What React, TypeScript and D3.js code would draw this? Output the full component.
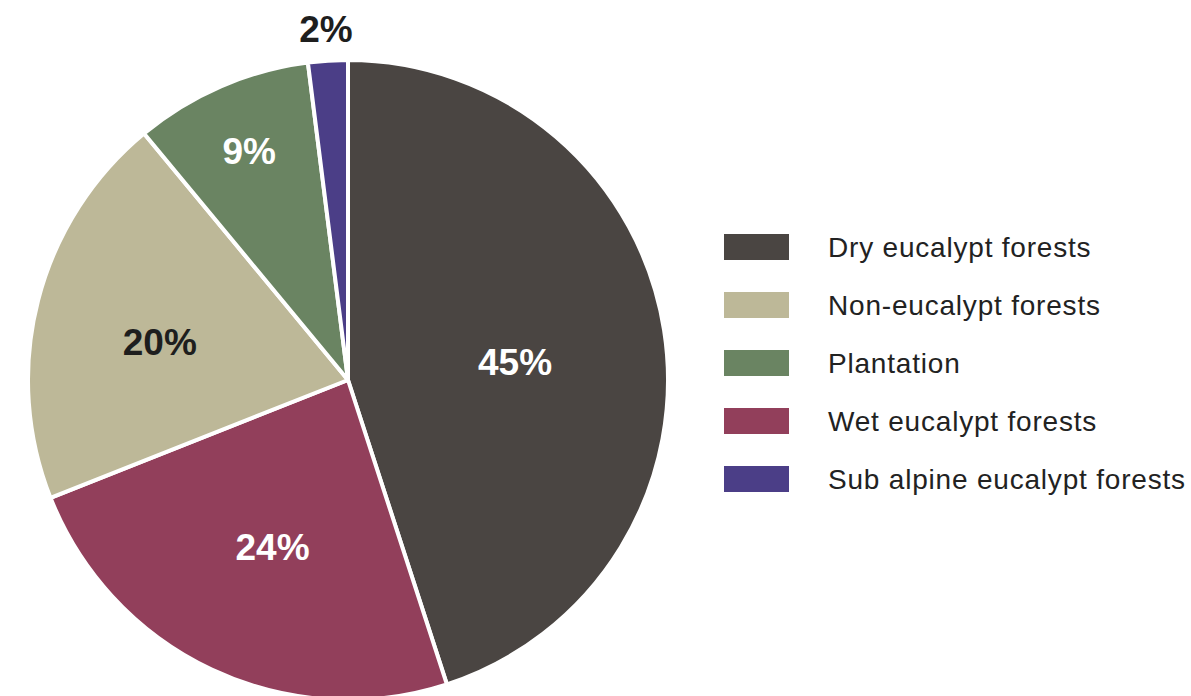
import React, { useMemo } from "react";
import * as d3 from "d3";

const WIDTH = 1191;
const HEIGHT = 696;
const CENTER = { x: 348, y: 380 };
const RADIUS = 320;

const categories = [
  "Dry eucalypt forests",
  "Wet eucalypt forests",
  "Non-eucalypt forests",
  "Plantation",
  "Sub alpine eucalypt forests",
];
const shares = [45, 24, 20, 9, 2];
const colors = ["#4a4542", "#923f5b", "#bdb898", "#6a8462", "#4b3e87"];
const labelColors = ["#ffffff", "#ffffff", "#1e1e1e", "#ffffff", "#1e1e1e"];
// percent labels: distance from the centre and a small turn (degrees) off the slice middle
const labelRadii = [168, 184, 192, 249, 351];
const labelTurn = [3, -1, -3, 0, 0];

// legend order differs from slice order
const legendOrder = [
  "Dry eucalypt forests",
  "Non-eucalypt forests",
  "Plantation",
  "Wet eucalypt forests",
  "Sub alpine eucalypt forests",
];

const LEGEND = { x: 724, y: 234, step: 58, sw: 65, sh: 26, textX: 828 };
const FONT = "'Liberation Sans', Arial, sans-serif";

export default function App() {
  const arcs = useMemo(() => {
    const pie = d3
      .pie<number>()
      .sort(null)
      .value((d) => d);
    return pie(shares);
  }, []);

  const arcGen = d3.arc<d3.PieArcDatum<number>>().innerRadius(0).outerRadius(RADIUS);

  return (
    <svg width={WIDTH} height={HEIGHT} style={{ position: "absolute", left: 0, top: 0 }}>
      <rect width={WIDTH} height={HEIGHT} fill="#ffffff" />
      <g transform={`translate(${CENTER.x},${CENTER.y})`}>
        {arcs.map((a, i) => (
          <path
            key={categories[i]}
            d={arcGen(a) || ""}
            fill={colors[i]}
            stroke="#ffffff"
            strokeWidth={4}
            strokeLinejoin="round"
          />
        ))}
        {arcs.map((a, i) => {
          const mid = (a.startAngle + a.endAngle) / 2 + (labelTurn[i] * Math.PI) / 180;
          const r = labelRadii[i];
          return (
            <text
              key={"l" + i}
              x={Math.sin(mid) * r}
              y={-Math.cos(mid) * r}
              textAnchor="middle"
              dominantBaseline="central"
              fontFamily={FONT}
              fontWeight="bold"
              fontSize={37}
              fill={labelColors[i]}
            >
              {shares[i]}%
            </text>
          );
        })}
      </g>
      <g>
        {legendOrder.map((name, i) => {
          const idx = categories.indexOf(name);
          const y = LEGEND.y + i * LEGEND.step;
          return (
            <g key={name}>
              <rect x={LEGEND.x} y={y} width={LEGEND.sw} height={LEGEND.sh} fill={colors[idx]} />
              <text
                x={LEGEND.textX}
                y={y + LEGEND.sh / 2}
                dominantBaseline="central"
                fontFamily={FONT}
                fontSize={28}
                letterSpacing={0.8}
                fill="#222222"
              >
                {name}
              </text>
            </g>
          );
        })}
      </g>
    </svg>
  );
}
